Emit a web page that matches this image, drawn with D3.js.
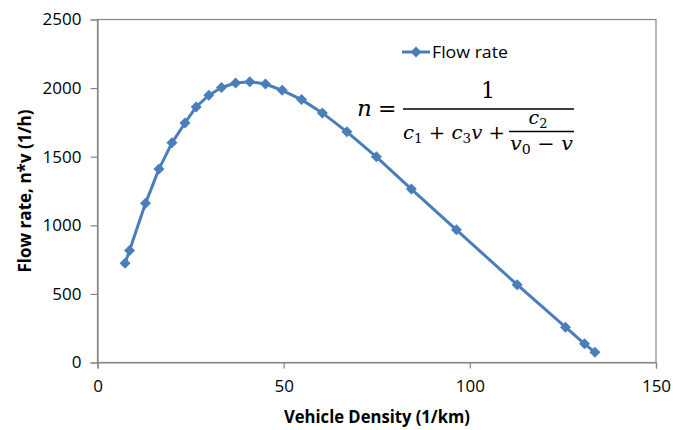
<!DOCTYPE html>
<html>
<head>
<meta charset="utf-8">
<title>Flow rate vs vehicle density</title>
<script src="https://cdn.jsdelivr.net/npm/d3@7"></script>
<style>
    body { margin: 0; background: #fff; }
    .tick text { font-family: "Open Sans", sans-serif; font-size: 17px; fill: #000; }
    .lab { font-family: "Open Sans", sans-serif; font-weight: bold; font-size: 18px; fill: #000; }
    .eq { font-family: "DejaVu Serif", serif; font-size: 19px; fill: #000; }
</style>
</head>
<body>
<script>

// data
var density = [7.4, 8.6, 12.9, 16.5, 20.0, 23.5, 26.5, 29.9, 33.3, 37.1, 40.9, 45.1,
               49.6, 54.8, 60.4, 67.0, 74.9, 84.3, 96.4, 112.7, 125.7, 130.8, 133.6];
var flow = [724, 816, 1160, 1410, 1601, 1746, 1863, 1948, 2004, 2037, 2047, 2030,
            1984, 1916, 1819, 1681, 1499, 1264, 967, 567, 257, 136, 75];
var xTicks = [0, 50, 100, 150];
var yTicks = [0, 500, 1000, 1500, 2000, 2500];
var seriesName = "Flow rate";

var width = 676,
    height = 430;
var margin = {top: 19.5, right: 20, bottom: 67.5, left: 97.5};
var w = width - margin.left - margin.right,
    h = height - margin.top - margin.bottom;

var blue = "#4a7ebb",
    grey = "#868686";

var svg = d3.select("body").append("svg")
    .attr("width", width)
    .attr("height", height);

var g = svg.append("g")
    .attr("transform", "translate(" + margin.left + "," + margin.top + ")");

var x = d3.scaleLinear().domain([0, 150]).range([0, w]);
var y = d3.scaleLinear().domain([0, 2500]).range([h, 0]);

// plot area border
g.append("rect")
    .attr("width", w)
    .attr("height", h)
    .attr("fill", "none")
    .attr("stroke", grey)
    .attr("stroke-width", 1.2);

// axes
var xAxis = g.append("g")
    .attr("transform", "translate(0," + h + ")")
    .call(d3.axisBottom(x).tickValues(xTicks).tickSize(6).tickPadding(11).tickFormat(d3.format("d")));
var yAxis = g.append("g")
    .call(d3.axisLeft(y).tickValues(yTicks).tickSize(7).tickPadding(9).tickFormat(d3.format("d")));
[xAxis, yAxis].forEach(function (a) {
    a.select(".domain").attr("stroke", grey).attr("stroke-width", 1.2);
    a.selectAll(".tick line").attr("stroke", grey).attr("stroke-width", 1.2);
});

// axis titles
svg.append("text")
    .attr("class", "lab")
    .attr("x", 377)
    .attr("y", 423)
    .attr("text-anchor", "middle")
    .attr("textLength", 186)
    .attr("lengthAdjust", "spacingAndGlyphs")
    .text("Vehicle Density (1/km)");

svg.append("text")
    .attr("class", "lab")
    .attr("transform", "translate(31,191) rotate(-90)")
    .attr("text-anchor", "middle")
    .attr("textLength", 163)
    .attr("lengthAdjust", "spacingAndGlyphs")
    .text("Flow rate, n*v (1/h)");

// series
var pts = density.map(function (d, i) { return [d, flow[i]]; });
var line = d3.line()
    .x(function (d) { return x(d[0]); })
    .y(function (d) { return y(d[1]); });

g.append("path")
    .datum(pts)
    .attr("fill", "none")
    .attr("stroke", blue)
    .attr("stroke-width", 3)
    .attr("stroke-linejoin", "round")
    .attr("d", line);

var diamond = "M0,-5.5L5.5,0L0,5.5L-5.5,0Z";
g.selectAll(".pt")
    .data(pts).enter()
    .append("path")
    .attr("class", "pt")
    .attr("d", diamond)
    .attr("fill", blue)
    .attr("transform", function (d) { return "translate(" + x(d[0]) + "," + y(d[1]) + ")"; });

// legend
var leg = svg.append("g").attr("transform", "translate(402,52)");
leg.append("line")
    .attr("x1", 0).attr("x2", 28)
    .attr("stroke", blue).attr("stroke-width", 3);
leg.append("path")
    .attr("d", diamond)
    .attr("fill", blue)
    .attr("transform", "translate(14,0)");
leg.append("text")
    .attr("x", 30)
    .attr("y", 6)
    .attr("font-family", "Open Sans, sans-serif")
    .attr("font-size", 17)
    .attr("textLength", 76)
    .attr("lengthAdjust", "spacingAndGlyphs")
    .text(seriesName);

// equation
var eq = svg.append("g").attr("class", "eq");
eq.append("text").attr("x", 357).attr("y", 116).attr("font-size", 23).attr("font-style", "italic").text("n");
eq.append("text").attr("x", 378).attr("y", 116).attr("font-size", 22).text("=");
eq.append("text").attr("x", 488).attr("y", 98).attr("font-size", 22).attr("text-anchor", "middle").text("1");
eq.append("line").attr("x1", 403).attr("x2", 574).attr("y1", 109).attr("y2", 109)
    .attr("stroke", "#000").attr("stroke-width", 1.6);

var den = eq.append("text").attr("x", 403).attr("y", 139)
    .attr("textLength", 102).attr("lengthAdjust", "spacingAndGlyphs");
den.append("tspan").attr("font-style", "italic").text("c");
den.append("tspan").attr("font-size", 13).attr("dy", 4).text("1");
den.append("tspan").attr("dy", -4).text(" + ");
den.append("tspan").attr("font-style", "italic").text("c");
den.append("tspan").attr("font-size", 13).attr("dy", 4).text("3");
den.append("tspan").attr("dy", -4).attr("font-style", "italic").text("v");
den.append("tspan").text(" +");

var num2 = eq.append("text").attr("x", 538).attr("y", 124).attr("text-anchor", "middle");
num2.append("tspan").attr("font-style", "italic").text("c");
num2.append("tspan").attr("font-size", 13).attr("dy", 4).text("2");
eq.append("line").attr("x1", 509).attr("x2", 574).attr("y1", 131.5).attr("y2", 131.5)
    .attr("stroke", "#000").attr("stroke-width", 1.3);
var den2 = eq.append("text").attr("x", 510).attr("y", 150)
    .attr("textLength", 63).attr("lengthAdjust", "spacingAndGlyphs");
den2.append("tspan").attr("font-style", "italic").text("v");
den2.append("tspan").attr("font-size", 13).attr("dy", 4).text("0");
den2.append("tspan").attr("dy", -4).text(" \u2212 ");
den2.append("tspan").attr("font-style", "italic").text("v");

</script>
</body>
</html>
